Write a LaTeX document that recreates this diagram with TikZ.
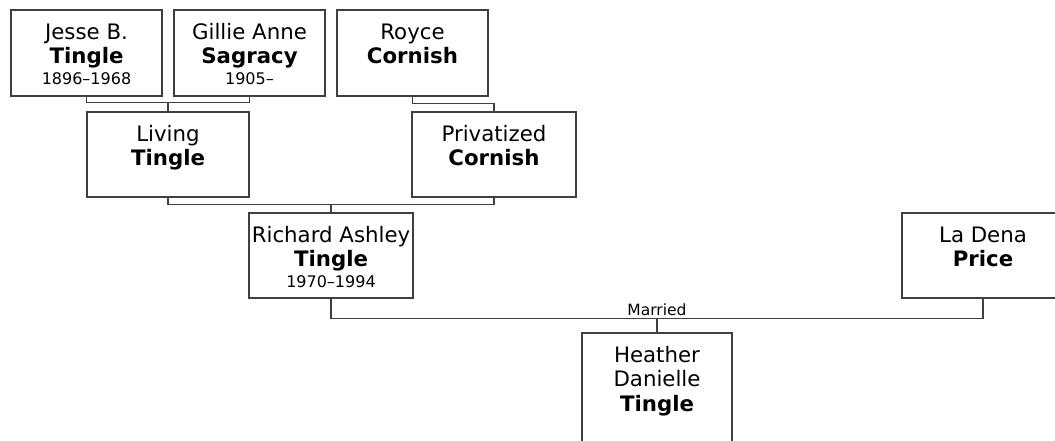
\documentclass[tikz,border=0pt]{standalone}
\usepackage{fontspec}
\setmainfont{DejaVu Sans}
\usetikzlibrary{calc}
\definecolor{linegray}{HTML}{404040}
\tikzset{
  personbox/.style={draw=linegray, line width=1.2pt, fill=white, rectangle, inner sep=0pt},
  conn/.style={draw=linegray, line width=1.2pt},
  nametext/.style={anchor=north, inner sep=0pt, align=center, font=\fontsize{21.3}{24.5}\selectfont},
  marrlabel/.style={anchor=south, inner sep=2pt, font=\fontsize{15.5}{18}\selectfont},
}
\newcommand\datesline[1]{{\fontsize{16}{21}\selectfont #1}}
\newcommand\topstrut{\rule{0pt}{29.5pt}}
\begin{document}
\begin{tikzpicture}[x=1pt,y=-1pt]
\useasboundingbox (0,0) rectangle (1055,440);
% boxes
\node[personbox, minimum width=151pt, minimum height=86pt] (jesse) at (86.5,53) {};
\node[personbox, minimum width=151pt, minimum height=86pt] (gillie) at (249.5,53) {};
\node[personbox, minimum width=151pt, minimum height=86pt] (royce) at (412.5,53) {};
\node[personbox, minimum width=162pt, minimum height=85pt] (living) at (168,154.5) {};
\node[personbox, minimum width=164pt, minimum height=85pt] (privatized) at (494,154.5) {};
\node[personbox, minimum width=164pt, minimum height=85pt] (richard) at (331,255.5) {};
\node[personbox, minimum width=162pt, minimum height=85pt] (ladena) at (983,255.5) {};
\node[personbox, minimum width=150pt, minimum height=130pt] (heather) at (657,398) {};
% texts
\node[nametext] (jesseT) at (jesse.north) {\topstrut Jesse B.\\\textbf{Tingle}\\[-3.5pt]\datesline{1896–1968}};
\node[nametext] (gillieT) at (gillie.north) {\topstrut Gillie Anne\\\textbf{Sagracy}\\[-3.5pt]\datesline{1905–}};
\node[nametext] (royceT) at (royce.north) {\topstrut Royce\\\textbf{Cornish}};
\node[nametext] (livingT) at (living.north) {\topstrut Living\\\textbf{Tingle}};
\node[nametext] (privatizedT) at (privatized.north) {\topstrut Privatized\\\textbf{Cornish}};
\node[nametext] (richardT) at (richard.north) {\topstrut Richard Ashley\\\textbf{Tingle}\\[-3.5pt]\datesline{1970–1994}};
\node[nametext] (ladenaT) at (ladena.north) {\topstrut La Dena\\\textbf{Price}};
\node[nametext] (heatherT) at (heather.north) {\topstrut Heather\\Danielle\\\textbf{Tingle}};
% connectors
\draw[conn] (jesse.south) |- ($(living.north)+(0,-9)$) -| (gillie.south);
\draw[conn] (living.north) -- ++(0,-9);
\draw[conn] (royce.south) |- ($(privatized.north)+(0,-8)$) -- (privatized.north);
\draw[conn] (living.south) |- ($(richard.north)+(0,-8)$) -| (privatized.south);
\draw[conn] (richard.north) -- ++(0,-8);
\draw[conn] (richard.south) |- ($(heather.north)+(0,-14)$) -| (ladena.south);
\draw[conn] (heather.north) -- ++(0,-14) node[marrlabel] (married) {Married};
\end{tikzpicture}
\end{document}
